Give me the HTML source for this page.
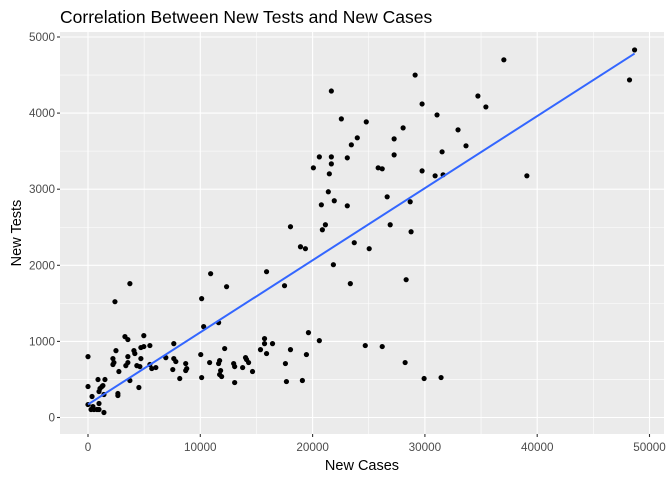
<!DOCTYPE html>
<html><head><meta charset="utf-8"><style>
body{margin:0;background:#fff;}
svg{display:block;font-family:"Liberation Sans",Arial,sans-serif;}
</style></head><body>
<svg id="chart" width="672" height="480" viewBox="0 0 672 480">
<text x="60" y="23" font-size="17.5" fill="#000">Correlation Between New Tests and New Cases</text>
<rect x="60" y="32" width="604" height="402" fill="#ebebeb"/>
<g id="grid"></g><g id="points"></g><g id="axes"></g>
<text x="362" y="470" font-size="14.5" text-anchor="middle" fill="#000">New Cases</text>
<text transform="translate(21,233) rotate(-90)" font-size="14.5" text-anchor="middle" fill="#000">New Tests</text>
</svg>
<script>
const xTicks=[0,10000,20000,30000,40000,50000];
const yTicks=[0,1000,2000,3000,4000,5000];
const cases=[29130,21670,34720,29750,31080,22560,24780,28060,32950,23980,27260,23450,33660,31530,20600,21670,23090,27260,21670,20070,25840,26200,21490,29750,30910,31620,21400,20780,21930,23090,26640,28690,18030,20870,21140,26910,28770,18920,19360,23710,25040,15900,21850,17500,23360,28330,19630,20600,15720,15720,16430,15360,15900,18030,19450,17580,24690,26200,28240,17670,19090,29930,31440,48220,48670,37030,39080,35430,10920,12340,3730,2400,10120,10300,11630,0,3290,3550,4970,7640,5510,4970,4710,2490,4090,4170,2220,2310,2220,3550,3550,3370,4710,4350,4620,5510,5680,6040,6930,7640,7820,7550,8700,8790,8700,8170,2750,3730,4530,10040,10120,10830,11720,11630,11810,11720,11900,12170,13060,12970,13060,13770,14030,14120,14300,14650,0,0,360,890,1510,1070,1240,1330,980,1420,2660,2660,980,440,270,530,800,980,1420];
const tests=[4500,4290,4225,4120,3976,3924,3885,3806,3780,3675,3661,3583,3570,3491,3425,3425,3412,3451,3333,3281,3281,3268,3202,3241,3176,3189,2966,2795,2848,2782,2900,2835,2507,2467,2533,2533,2441,2244,2218,2297,2218,1916,2008,1732,1759,1811,1115,1010,1037,971,971,892,840,892,827,709,945,932,722,472,486,512,525,4436,4830,4700,3176,4081,1890,1719,1759,1522,1562,1194,1247,800,1063,1024,1076,971,945,932,919,879,879,840,774,722,696,800,722,682,774,682,669,696,643,656,787,774,735,630,709,643,617,512,604,486,394,827,525,722,748,709,617,564,538,906,459,709,669,656,787,761,722,604,407,170,276,499,499,381,407,420,341,302,315,289,184,144,105,105,105,105,66];
const NS='http://www.w3.org/2000/svg';
const px0=88,pxs=(649.5-88)/50000, py0=417.5, pys=(417.5-37)/5000;
const X=v=>px0+v*pxs, Y=v=>py0-v*pys;
function mk(t,a,p){const e=document.createElementNS(NS,t);for(const k in a)e.setAttribute(k,a[k]);p.appendChild(e);return e;}
const grid=document.getElementById('grid'),axes=document.getElementById('axes'),pts=document.getElementById('points');
for(let i=0;i<xTicks.length-1;i++){const m=(xTicks[i]+xTicks[i+1])/2;const l=mk('line',{x1:X(m),x2:X(m),y1:32,y2:434,stroke:'#fff','stroke-width':0.55},grid);

}
for(let i=0;i<yTicks.length-1;i++){const m=(yTicks[i]+yTicks[i+1])/2;const l=mk('line',{x1:60,x2:664,y1:Y(m),y2:Y(m),stroke:'#fff','stroke-width':0.55},grid);

}
xTicks.forEach(t=>{const l=mk('line',{x1:X(t),x2:X(t),y1:32,y2:434,stroke:'#fff','stroke-width':1.1},grid);


const tk=mk('line',{x1:X(t),x2:X(t),y1:434,y2:437,stroke:'#333','stroke-width':1.1},axes);


const tx=mk('text',{x:X(t),y:451,'font-size':11.7,'text-anchor':'middle',fill:'#4d4d4d'},axes);tx.textContent=t;

});
yTicks.forEach(t=>{const l=mk('line',{x1:60,x2:664,y1:Y(t),y2:Y(t),stroke:'#fff','stroke-width':1.1},grid);


const tk=mk('line',{x1:57,x2:60,y1:Y(t),y2:Y(t),stroke:'#333','stroke-width':1.1},axes);


const tx=mk('text',{x:55,y:Y(t)+4,'font-size':11.7,'text-anchor':'end',fill:'#4d4d4d'},axes);tx.textContent=t;

});
cases.forEach((c,i)=>{const d=mk('circle',{cx:X(c),cy:Y(tests[i]),r:2.6,fill:'#000'},pts);

});
// least squares fit line
const n=cases.length;let mx=0,my=0;for(let i=0;i<n;i++){mx+=cases[i];my+=tests[i];}mx/=n;my/=n;
let sxy=0,sxx=0;for(let i=0;i<n;i++){sxy+=(cases[i]-mx)*(tests[i]-my);sxx+=(cases[i]-mx)**2;}
const b=sxy/sxx,a=my-b*mx;const xmin=Math.min(...cases),xmax=Math.max(...cases);
const fl=mk('line',{x1:X(xmin),y1:Y(a+b*xmin),x2:X(xmax),y2:Y(a+b*xmax),stroke:'#3366FF','stroke-width':2},pts);


</script>
</body></html>
